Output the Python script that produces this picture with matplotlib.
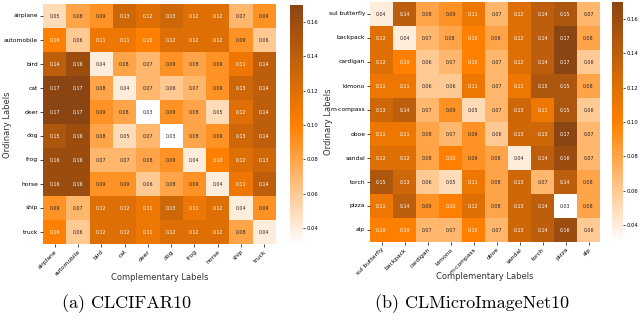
import matplotlib
matplotlib.use("Agg")
import matplotlib.pyplot as plt
from matplotlib.colors import LinearSegmentedColormap
import numpy as np
import seaborn as sns

cifar_labels = ["airplane", "automobile", "bird", "cat", "deer",
                "dog", "frog", "horse", "ship", "truck"]
cifar_vals = [
    [0.05, 0.08, 0.09, 0.13, 0.12, 0.13, 0.12, 0.12, 0.07, 0.09],
    [0.10, 0.06, 0.11, 0.11, 0.10, 0.12, 0.12, 0.12, 0.09, 0.06],
    [0.14, 0.16, 0.04, 0.08, 0.07, 0.09, 0.08, 0.09, 0.11, 0.14],
    [0.17, 0.17, 0.08, 0.04, 0.07, 0.06, 0.07, 0.09, 0.13, 0.14],
    [0.17, 0.17, 0.09, 0.08, 0.03, 0.09, 0.08, 0.05, 0.12, 0.14],
    [0.15, 0.16, 0.08, 0.05, 0.07, 0.03, 0.08, 0.09, 0.13, 0.14],
    [0.16, 0.16, 0.07, 0.07, 0.08, 0.09, 0.04, 0.10, 0.12, 0.13],
    [0.16, 0.16, 0.09, 0.09, 0.06, 0.08, 0.09, 0.04, 0.11, 0.14],
    [0.09, 0.07, 0.12, 0.12, 0.11, 0.13, 0.11, 0.12, 0.04, 0.09],
    [0.10, 0.06, 0.12, 0.12, 0.11, 0.12, 0.12, 0.12, 0.08, 0.04],
]

micro_labels = ["sul butterfly", "backpack", "cardigan", "kimono", "m-compass",
                "oboe", "sandal", "torch", "pizza", "alp"]
micro_vals = [
    [0.04, 0.14, 0.08, 0.09, 0.11, 0.07, 0.12, 0.14, 0.15, 0.07],
    [0.12, 0.04, 0.07, 0.08, 0.10, 0.08, 0.12, 0.14, 0.17, 0.08],
    [0.12, 0.10, 0.06, 0.07, 0.10, 0.07, 0.12, 0.14, 0.17, 0.06],
    [0.11, 0.11, 0.06, 0.06, 0.11, 0.07, 0.11, 0.15, 0.15, 0.08],
    [0.13, 0.14, 0.07, 0.09, 0.05, 0.07, 0.13, 0.11, 0.15, 0.06],
    [0.11, 0.11, 0.08, 0.07, 0.09, 0.06, 0.13, 0.13, 0.17, 0.07],
    [0.12, 0.12, 0.08, 0.10, 0.09, 0.08, 0.04, 0.14, 0.16, 0.07],
    [0.15, 0.13, 0.06, 0.05, 0.11, 0.08, 0.13, 0.07, 0.14, 0.08],
    [0.11, 0.14, 0.09, 0.10, 0.12, 0.08, 0.13, 0.14, 0.03, 0.08],
    [0.10, 0.10, 0.07, 0.07, 0.10, 0.07, 0.13, 0.14, 0.16, 0.06],
]

cbar_ticks = [0.04, 0.06, 0.08, 0.10, 0.12, 0.14, 0.16]
captions = ["(a) CLCIFAR10", "(b) CLMicroImageNet10"]

cmap = LinearSegmentedColormap.from_list("wob", ["#ffffff", "#ff8000", "#8b4513"])

W, H = 640, 322
fig = plt.figure(figsize=(6.4, 3.22), dpi=100)


def box(x0, y0, x1, y1):
    return [x0 / W, 1 - y1 / H, (x1 - x0) / W, (y1 - y0) / H]


def draw(ax, cax, vals, labels, xlab_pos, ylab_pos):
    sns.heatmap(np.array(vals), ax=ax, cbar_ax=cax, cmap=cmap, annot=True, fmt=".2f",
                annot_kws={"fontsize": 3.4}, xticklabels=labels, yticklabels=labels,
                vmin=0.03, vmax=0.17, cbar_kws={"ticks": cbar_ticks})
    ax.set_xticklabels(labels, rotation=45, ha="right", rotation_mode="anchor", fontsize=4.3)
    ax.set_yticklabels(labels, rotation=0, fontsize=4.3)
    ax.tick_params(length=2, width=0.5, pad=1.5)
    ax.set_xlabel("Complementary Labels", fontsize=6, color="#333333")
    ax.set_ylabel("Ordinary Labels", fontsize=6, color="#333333")
    ax.xaxis.set_label_coords(xlab_pos[0] / W, 1 - xlab_pos[1] / H, transform=fig.transFigure)
    ax.yaxis.set_label_coords(ylab_pos[0] / W, 1 - ylab_pos[1] / H, transform=fig.transFigure)
    cax.tick_params(labelsize=3.8, length=1.5, width=0.5, pad=1)


ax1 = fig.add_axes(box(43, 4, 276, 244))
cax1 = fig.add_axes(box(290, 5, 303, 245))
draw(ax1, cax1, cifar_vals, cifar_labels, (160, 273), (12, 125))

ax2 = fig.add_axes(box(370, 2, 600, 242))
cax2 = fig.add_axes(box(612, 2, 623, 242))
draw(ax2, cax2, micro_vals, micro_labels, (485, 272), (333, 122))

fig.text(127 / W, 1 - 304 / H, captions[0], ha="center", va="center",
         fontsize=13, family="cmr10")
fig.text(472 / W, 1 - 304 / H, captions[1], ha="center", va="center",
         fontsize=13, family="cmr10")

fig.savefig("out.png", dpi=100)
